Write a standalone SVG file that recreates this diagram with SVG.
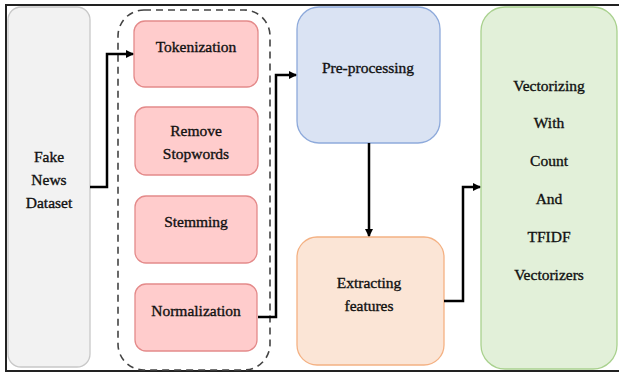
<svg xmlns="http://www.w3.org/2000/svg" width="619" height="374" viewBox="0 0 619 374">
<defs>
<marker id="arr" markerWidth="8" markerHeight="8" refX="7" refY="4" orient="auto" markerUnits="userSpaceOnUse">
<path d="M0,0 L8,4 L0,8 Z" fill="#000"/>
</marker>
<style>
text{font-family:'Liberation Serif','DejaVu Serif',serif;font-size:15.5px;fill:#111;text-anchor:middle;stroke:#111;stroke-width:0.35px}
.pink{fill:#ffcccc;stroke:#e48a8a;stroke-width:1.3}
.conn{fill:none;stroke:#000;stroke-width:2.5}
</style>
</defs>
<rect width="619" height="374" fill="#fff"/>
<path d="M619,5 H6 V371 H619" fill="none" stroke="#222" stroke-width="2"/>
<g id="dataset" font-family="Liberation Serif, serif">
<rect x="8" y="7" width="82" height="360" rx="13" fill="#f2f2f2" stroke="#c8c8c8" stroke-width="1.3"/>
<text x="49" y="162">Fake</text>
<text x="49" y="185">News</text>
<text x="49" y="208">Dataset</text>
</g>
<g id="group">
<rect x="118" y="10" width="152" height="360" rx="26" fill="none" stroke="#444" stroke-width="1.6" stroke-dasharray="7,5"/>
</g>
<g id="tokenization">
<rect class="pink" x="134" y="21" width="124" height="66" rx="11"/>
<text x="196" y="52">Tokenization</text>
</g>
<g id="stopwords">
<rect class="pink" x="135" y="107" width="123" height="68" rx="11"/>
<text x="196" y="136">Remove</text>
<text x="196" y="159">Stopwords</text>
</g>
<g id="stemming">
<rect class="pink" x="135" y="196" width="122" height="67" rx="11"/>
<text x="196" y="227">Stemming</text>
</g>
<g id="normalization">
<rect class="pink" x="135" y="284" width="122" height="67" rx="11"/>
<text x="196" y="316">Normalization</text>
</g>
<g id="preprocessing">
<rect x="297" y="7" width="143" height="136" rx="22" fill="#dae3f3" stroke="#8eaadb" stroke-width="1.3"/>
<text x="368" y="73">Pre-processing</text>
</g>
<g id="extracting">
<rect x="297" y="237" width="147" height="128" rx="20" fill="#fbe5d6" stroke="#f4b183" stroke-width="1.3"/>
<text x="369" y="288">Extracting</text>
<text x="369" y="311">features</text>
</g>
<g id="vectorizing">
<rect x="481" y="7" width="136" height="362" rx="24" fill="#e2f0d9" stroke="#a9d18e" stroke-width="1.3"/>
<text x="549" y="91">Vectorizing</text>
<text x="549" y="128">With</text>
<text x="549" y="166">Count</text>
<text x="549" y="204">And</text>
<text x="549" y="242">TFIDF</text>
<text x="549" y="280">Vectorizers</text>
</g>
<g id="connectors">
<path class="conn" d="M90,187 H107 V54 H133" marker-end="url(#arr)"/>
<path class="conn" d="M258,317 H276 V75 H296" marker-end="url(#arr)"/>
<path class="conn" d="M369,143 V236" marker-end="url(#arr)"/>
<path class="conn" d="M444,301 H463 V187 H480" marker-end="url(#arr)"/>
</g>
</svg>
